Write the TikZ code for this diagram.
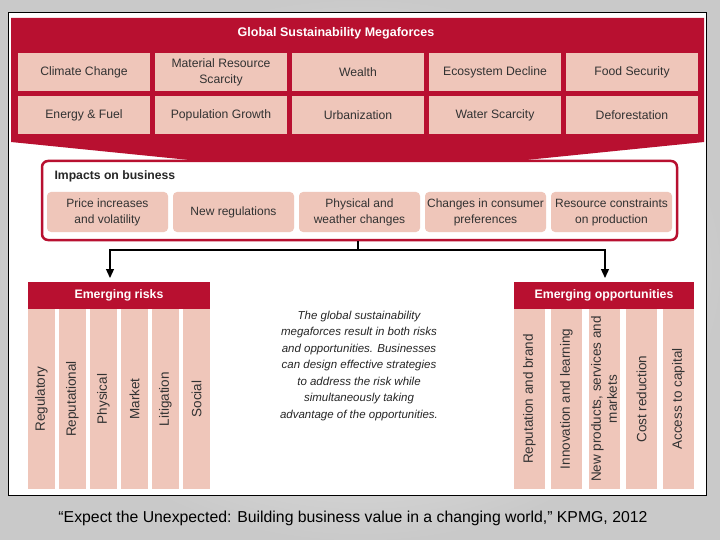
\documentclass[tikz,border=0pt]{standalone}
\usepackage{fontspec}
\setmainfont{Liberation Sans}
\usetikzlibrary{arrows.meta}
\definecolor{kred}{RGB}{184,16,48}
\definecolor{kpink}{RGB}{239,198,186}
\definecolor{ktext}{RGB}{50,50,50}
\begin{document}
\begin{tikzpicture}[x=1pt,y=-1pt,
  mf/.style={fill=kpink, minimum width=132pt, minimum height=38pt, inner sep=0pt, align=center, text=ktext, font=\fontsize{12.2}{16}\selectfont},
  imp/.style={fill=kpink, rounded corners=4pt, minimum width=121pt, minimum height=40pt, inner sep=0pt, align=center, text=ktext, font=\fontsize{12}{16}\selectfont},
  hdr/.style={fill=kred, minimum height=27pt, inner sep=0pt, text=white, font=\bfseries\fontsize{12.3}{14}\selectfont},
  lcol/.style={fill=kpink, rotate=90, minimum width=180pt, minimum height=27pt, inner sep=0pt, align=center, text=ktext, font=\fontsize{13.5}{16}\selectfont},
  rcol/.style={lcol, minimum height=31pt},
  arr/.style={line width=1.3pt, -{Triangle[length=9pt,width=8pt]}}
]
% background
\shade[inner color=gray!8, outer color=gray!42] (0,0) rectangle (720,540);
% white panel
\draw[fill=white, line width=0.8pt] (8,12) rectangle (706,495);
% red megaforces banner with chevron bottom
\fill[kred] (11,18) -- (704,18) -- (704,142) -- (358,177) -- (11,142) -- cycle;
\node[text=white, font=\bfseries\fontsize{12.5}{14}\selectfont] (mtitle) at (336,33) {Global Sustainability Megaforces};
\node[mf] (m1) at (84,72) {Climate Change};
\node[mf] (m2) at (221,72) {Material Resource\\Scarcity};
\node[mf] (m3) at (358,72) {Wealth};
\node[mf] (m4) at (495,72) {Ecosystem Decline};
\node[mf] (m5) at (632,72) {Food Security};
\node[mf] (m6) at (84,115) {Energy \& Fuel};
\node[mf] (m7) at (221,115) {Population Growth};
\node[mf] (m8) at (358,115) {Urbanization};
\node[mf] (m9) at (495,115) {Water Scarcity};
\node[mf] (m10) at (632,115) {Deforestation};
% impacts box
\node[draw=kred, line width=2.5pt, fill=white, rounded corners=6pt, minimum width=635pt, minimum height=79pt, inner sep=0pt] (impacts) at (359.5,200.5) {};
\node[anchor=west, font=\bfseries\fontsize{12.2}{14}\selectfont, text=black!85] (ititle) at (51,176) {Impacts on business};
\node[imp] (i1) at (107.5,212) {Price increases\\and volatility};
\node[imp] (i2) at (233.5,212) {New regulations};
\node[imp] (i3) at (359.5,212) {Physical and\\weather changes};
\node[imp] (i4) at (485.5,212) {Changes in consumer\\preferences};
\node[imp] (i5) at (611.5,212) {Resource constraints\\on production};
% emerging risks
\node[hdr, minimum width=182pt] (risks) at (119,295.5) {Emerging risks};
\node[lcol] (r1) at (41.5,399) {Regulatory};
\node[lcol] (r2) at (72.5,399) {Reputational};
\node[lcol] (r3) at (103.5,399) {Physical};
\node[lcol] (r4) at (134.5,399) {Market};
\node[lcol] (r5) at (165.5,399) {Litigation};
\node[lcol] (r6) at (196.5,399) {Social};
% emerging opportunities
\node[hdr, minimum width=180pt] (opps) at (604,295.5) {Emerging opportunities};
\node[rcol] (o1) at (529.5,399) {Reputation and brand};
\node[rcol] (o2) at (566.5,399) {Innovation and learning};
\node[rcol] (o3) at (604,399) {New products, services and\\markets};
\node[rcol] (o4) at (641.5,399) {Cost reduction};
\node[rcol] (o5) at (678.5,399) {Access to capital};
% connectors
\coordinate (junc) at (358,250);
\coordinate (la) at (110,278);
\coordinate (ra) at (605,278);
\draw[line width=1.3pt] (impacts.south -| junc) -- (junc);
\draw[arr] (junc) -| (la);
\draw[arr] (junc) -| (ra);
% middle text
\node[align=center, font=\itshape\fontsize{11.5}{16.5}\selectfont, text=black!85] (mid) at (359,366) {The global sustainability\\megaforces result in both risks\\and opportunities. Businesses\\can design effective strategies\\to address the risk while\\simultaneously taking\\advantage of the opportunities.};
% caption
\node[font=\fontsize{15.8}{18}\selectfont] (cap) at (353,518) {“Expect the Unexpected: Building business value in a changing world,” KPMG, 2012};
\end{tikzpicture}
\end{document}
